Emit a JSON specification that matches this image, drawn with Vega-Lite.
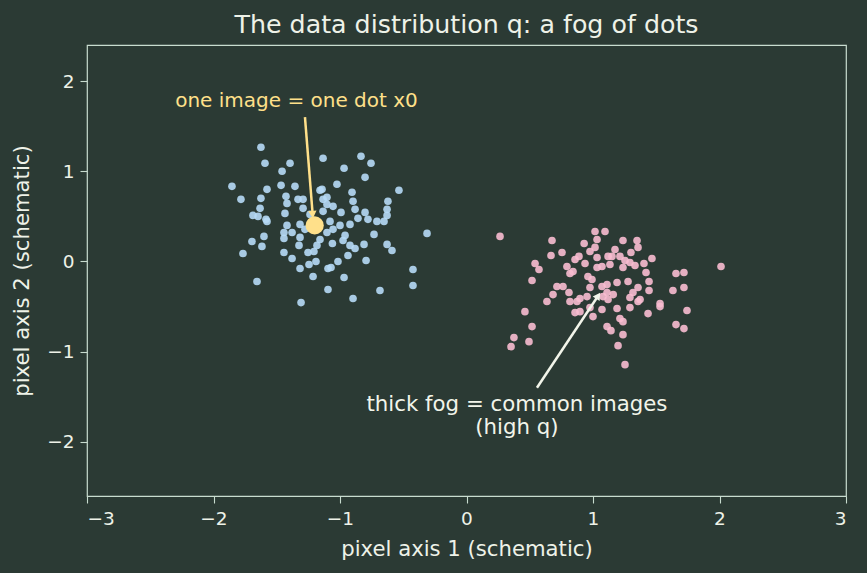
{
  "$schema": "https://vega.github.io/schema/vega-lite/v6.json",
  "autosize": "none",
  "width": 759,
  "height": 451,
  "padding": {"left": 87, "top": 45, "right": 21, "bottom": 77},
  "background": "#2b3a34",
  "config": {
    "font": "DejaVu Sans",
    "view": {"stroke": "#c8dccf", "strokeWidth": 1.2, "fill": "#2b3a34"},
    "axis": {
      "domain": false, "grid": false, "tickColor": "#c8dccf", "tickSize": 7, "tickWidth": 1.1,
      "labelColor": "#eef2e8", "labelFontSize": 18.5, "titleColor": "#eef2e8", "titleFontSize": 21.2,
      "titleFontWeight": "normal", "labelPadding": 6, "format": "d"
    },
    "title": {"color": "#eef2e8", "fontSize": 25.3, "fontWeight": "normal", "offset": 7}
  },
  "title": "The data distribution q: a fog of dots",
  "datasets": {
    "dots": [
      {"g":"blue","x":-1.625,"y":1.267},{"g":"blue","x":-1.593,"y":1.089},{"g":"blue","x":-1.395,"y":1.089},{"g":"blue","x":-1.458,"y":1.0},
      {"g":"blue","x":-1.134,"y":1.144},{"g":"blue","x":-1.854,"y":0.833},{"g":"blue","x":-1.577,"y":0.8},{"g":"blue","x":-1.466,"y":0.844},
      {"g":"blue","x":-1.356,"y":0.833},{"g":"blue","x":-1.783,"y":0.689},{"g":"blue","x":-1.625,"y":0.7},{"g":"blue","x":-1.427,"y":0.722},
      {"g":"blue","x":-1.419,"y":0.644},{"g":"blue","x":-1.332,"y":0.689},{"g":"blue","x":-1.292,"y":0.689},{"g":"blue","x":-1.292,"y":0.589},
      {"g":"blue","x":-1.158,"y":0.789},{"g":"blue","x":-1.134,"y":0.689},{"g":"blue","x":-1.632,"y":0.589},{"g":"blue","x":-1.688,"y":0.511},
      {"g":"blue","x":-1.648,"y":0.5},{"g":"blue","x":-1.585,"y":0.467},{"g":"blue","x":-1.435,"y":0.533},{"g":"blue","x":-1.419,"y":0.4},
      {"g":"blue","x":-1.316,"y":0.411},{"g":"blue","x":-1.134,"y":0.556},{"g":"blue","x":-1.103,"y":0.633},{"g":"blue","x":-0.834,"y":1.167},
      {"g":"blue","x":-0.755,"y":1.089},{"g":"blue","x":-0.968,"y":1.033},{"g":"blue","x":-0.802,"y":0.933},{"g":"blue","x":-1.024,"y":0.856},
      {"g":"blue","x":-0.534,"y":0.789},{"g":"blue","x":-0.905,"y":0.767},{"g":"blue","x":-0.897,"y":0.667},{"g":"blue","x":-0.621,"y":0.667},
      {"g":"blue","x":-1.103,"y":0.711},{"g":"blue","x":-1.055,"y":0.611},{"g":"blue","x":-0.881,"y":0.578},{"g":"blue","x":-0.628,"y":0.578},
      {"g":"blue","x":-0.802,"y":0.544},{"g":"blue","x":-0.992,"y":0.544},{"g":"blue","x":-0.628,"y":0.511},{"g":"blue","x":-0.779,"y":0.467},
      {"g":"blue","x":-0.858,"y":0.478},{"g":"blue","x":-0.708,"y":0.444},{"g":"blue","x":-0.652,"y":0.444},{"g":"blue","x":-0.921,"y":0.411},
      {"g":"blue","x":-1.142,"y":0.8},{"g":"blue","x":-1.379,"y":0.322},{"g":"blue","x":-1.443,"y":0.322},{"g":"blue","x":-1.601,"y":0.278},
      {"g":"blue","x":-1.696,"y":0.222},{"g":"blue","x":-1.617,"y":0.167},{"g":"blue","x":-1.443,"y":0.256},{"g":"blue","x":-1.316,"y":0.267},
      {"g":"blue","x":-1.324,"y":0.178},{"g":"blue","x":-1.767,"y":0.089},{"g":"blue","x":-1.443,"y":0.1},{"g":"blue","x":-1.379,"y":0.033},
      {"g":"blue","x":-1.253,"y":0.1},{"g":"blue","x":-1.182,"y":0.178},{"g":"blue","x":-1.206,"y":0.111},{"g":"blue","x":-1.19,"y":0.0},
      {"g":"blue","x":-1.245,"y":-0.033},{"g":"blue","x":-1.316,"y":-0.078},{"g":"blue","x":-1.213,"y":-0.167},{"g":"blue","x":-1.656,"y":-0.222},
      {"g":"blue","x":-1.095,"y":-0.078},{"g":"blue","x":-1.095,"y":-0.311},{"g":"blue","x":-1.308,"y":-0.456},{"g":"blue","x":-1.577,"y":0.444},
      {"g":"blue","x":-0.731,"y":0.3},{"g":"blue","x":-0.312,"y":0.311},{"g":"blue","x":-0.96,"y":0.289},{"g":"blue","x":-0.976,"y":0.233},
      {"g":"blue","x":-0.921,"y":0.178},{"g":"blue","x":-0.81,"y":0.189},{"g":"blue","x":-0.628,"y":0.189},{"g":"blue","x":-0.589,"y":0.122},
      {"g":"blue","x":-0.881,"y":0.144},{"g":"blue","x":-0.937,"y":0.067},{"g":"blue","x":-1.016,"y":0.0},{"g":"blue","x":-0.794,"y":0.011},
      {"g":"blue","x":-1.071,"y":-0.067},{"g":"blue","x":-0.423,"y":-0.089},{"g":"blue","x":-0.968,"y":-0.178},{"g":"blue","x":-0.423,"y":-0.267},
      {"g":"blue","x":-0.684,"y":-0.322},{"g":"blue","x":-0.897,"y":-0.411},{"g":"blue","x":-1.055,"y":0.356},{"g":"blue","x":-1.103,"y":0.322},
      {"g":"blue","x":-1.237,"y":0.522},{"g":"blue","x":-1.079,"y":0.444},{"g":"blue","x":-1.158,"y":0.244},{"g":"blue","x":-1.277,"y":0.356},
      {"g":"blue","x":-1.0,"y":0.4},{"g":"blue","x":-1.06,"y":0.2},
      {"g":"pink","x":0.265,"y":0.278},{"g":"pink","x":0.676,"y":0.233},{"g":"pink","x":0.668,"y":0.067},{"g":"pink","x":0.755,"y":0.1},
      {"g":"pink","x":0.542,"y":-0.022},{"g":"pink","x":0.573,"y":-0.089},{"g":"pink","x":0.518,"y":-0.211},{"g":"pink","x":1.016,"y":0.333},
      {"g":"pink","x":1.095,"y":0.333},{"g":"pink","x":1.032,"y":0.244},{"g":"pink","x":1.016,"y":0.156},{"g":"pink","x":0.976,"y":0.111},
      {"g":"pink","x":0.889,"y":0.056},{"g":"pink","x":0.858,"y":0.022},{"g":"pink","x":0.937,"y":-0.022},{"g":"pink","x":1.032,"y":0.044},
      {"g":"pink","x":0.794,"y":-0.056},{"g":"pink","x":0.842,"y":-0.111},{"g":"pink","x":0.818,"y":-0.133},{"g":"pink","x":1.032,"y":-0.067},
      {"g":"pink","x":0.96,"y":-0.167},{"g":"pink","x":0.992,"y":-0.2},{"g":"pink","x":1.119,"y":0.056},{"g":"pink","x":0.715,"y":-0.278},
      {"g":"pink","x":0.763,"y":-0.278},{"g":"pink","x":0.81,"y":-0.344},{"g":"pink","x":0.684,"y":-0.367},{"g":"pink","x":0.636,"y":-0.444},
      {"g":"pink","x":0.976,"y":-0.289},{"g":"pink","x":1.071,"y":-0.278},{"g":"pink","x":1.111,"y":-0.344},{"g":"pink","x":0.818,"y":-0.444},
      {"g":"pink","x":0.897,"y":-0.411},{"g":"pink","x":0.953,"y":-0.389},{"g":"pink","x":1.237,"y":0.233},{"g":"pink","x":1.348,"y":0.233},
      {"g":"pink","x":1.356,"y":0.156},{"g":"pink","x":1.15,"y":0.056},{"g":"pink","x":1.213,"y":0.056},{"g":"pink","x":1.253,"y":0.011},
      {"g":"pink","x":1.292,"y":-0.011},{"g":"pink","x":1.332,"y":-0.044},{"g":"pink","x":1.403,"y":-0.022},{"g":"pink","x":1.466,"y":0.033},
      {"g":"pink","x":1.134,"y":-0.033},{"g":"pink","x":1.237,"y":-0.067},{"g":"pink","x":1.071,"y":-0.056},{"g":"pink","x":1.419,"y":-0.122},
      {"g":"pink","x":1.443,"y":-0.222},{"g":"pink","x":1.277,"y":-0.222},{"g":"pink","x":1.19,"y":-0.233},{"g":"pink","x":1.656,"y":-0.133},
      {"g":"pink","x":1.719,"y":-0.122},{"g":"pink","x":2.012,"y":-0.056},{"g":"pink","x":1.632,"y":-0.322},{"g":"pink","x":1.719,"y":-0.289},
      {"g":"pink","x":1.443,"y":-0.322},{"g":"pink","x":1.111,"y":-0.256},{"g":"pink","x":1.356,"y":-0.289},{"g":"pink","x":1.316,"y":-0.344},
      {"g":"pink","x":1.16,"y":-0.367},{"g":"pink","x":1.079,"y":-0.389},{"g":"pink","x":1.292,"y":-0.4},{"g":"pink","x":1.372,"y":-0.422},
      {"g":"pink","x":1.53,"y":-0.467},{"g":"pink","x":0.462,"y":-0.556},{"g":"pink","x":0.518,"y":-0.722},{"g":"pink","x":0.375,"y":-0.844},
      {"g":"pink","x":0.494,"y":-0.889},{"g":"pink","x":0.352,"y":-0.944},{"g":"pink","x":0.874,"y":-0.444},{"g":"pink","x":0.858,"y":-0.567},
      {"g":"pink","x":0.897,"y":-0.556},{"g":"pink","x":0.976,"y":-0.511},{"g":"pink","x":1.0,"y":-0.611},{"g":"pink","x":1.071,"y":-0.533},
      {"g":"pink","x":1.111,"y":-0.722},{"g":"pink","x":1.119,"y":-0.422},{"g":"pink","x":1.19,"y":-0.522},{"g":"pink","x":1.292,"y":-0.511},
      {"g":"pink","x":1.356,"y":-0.444},{"g":"pink","x":1.213,"y":-0.633},{"g":"pink","x":1.237,"y":-0.667},{"g":"pink","x":1.435,"y":-0.578},
      {"g":"pink","x":1.53,"y":-0.5},{"g":"pink","x":1.743,"y":-0.544},{"g":"pink","x":1.142,"y":-0.767},{"g":"pink","x":1.237,"y":-0.811},
      {"g":"pink","x":1.656,"y":-0.7},{"g":"pink","x":1.719,"y":-0.744},{"g":"pink","x":1.198,"y":-0.933},{"g":"pink","x":1.253,"y":-1.144},
      {"g":"pink","x":1.174,"y":0.133},{"g":"pink","x":1.3,"y":0.1},{"g":"pink","x":0.93,"y":0.2}
    ]
  },
  "layer": [
    {
      "data": {"name": "dots"},
      "mark": {"type": "point", "filled": true, "size": 58, "opacity": 0.9, "shape": "circle"},
      "encoding": {
        "x": {"field": "x", "type": "quantitative", "scale": {"domain": [-3, 3], "nice": false}, "axis": {"values": [-3,-2,-1,0,1,2,3], "title": "pixel axis 1 (schematic)", "titlePadding": 11}},
        "y": {"field": "y", "type": "quantitative", "scale": {"domain": [-2.6, 2.4], "nice": false}, "axis": {"values": [-2,-1,0,1,2], "title": "pixel axis 2 (schematic)", "titlePadding": 14}},
        "color": {"field": "g", "type": "nominal", "scale": {"domain": ["blue","pink"], "range": ["#b6daf6","#f8bdd0"]}, "legend": null}
      }
    },
    {
      "data": {"values": [{"x": -1.2, "y": 0.4}]},
      "mark": {"type": "point", "filled": true, "size": 330, "opacity": 1, "color": "#ffe08a", "shape": "circle"},
      "encoding": {"x": {"field": "x", "type": "quantitative"}, "y": {"field": "y", "type": "quantitative"}}
    },
    {
      "data": {"values": [{"x": -1.277, "y": 1.6, "x2": -1.216, "y2": 0.52}]},
      "mark": {"type": "rule", "color": "#ffe08a", "strokeWidth": 2.5},
      "encoding": {"x": {"field": "x", "type": "quantitative"}, "y": {"field": "y", "type": "quantitative"}, "x2": {"field": "x2"}, "y2": {"field": "y2"}}
    },
    {
      "data": {"values": [{"x": -1.216, "y": 0.52}]},
      "mark": {"type": "point", "shape": "triangle-up", "filled": true, "opacity": 1, "size": 70, "angle": 175, "color": "#ffe08a"},
      "encoding": {"x": {"field": "x", "type": "quantitative"}, "y": {"field": "y", "type": "quantitative"}}
    },
    {
      "data": {"values": [{"x": 0.557, "y": -1.4, "x2": 1.041, "y2": -0.38}]},
      "mark": {"type": "rule", "color": "#f2f5ea", "strokeWidth": 2.5},
      "encoding": {"x": {"field": "x", "type": "quantitative"}, "y": {"field": "y", "type": "quantitative"}, "x2": {"field": "x2"}, "y2": {"field": "y2"}}
    },
    {
      "data": {"values": [{"x": 1.041, "y": -0.38}]},
      "mark": {"type": "point", "shape": "triangle-up", "filled": true, "opacity": 1, "size": 70, "angle": 34, "color": "#f2f5ea"},
      "encoding": {"x": {"field": "x", "type": "quantitative"}, "y": {"field": "y", "type": "quantitative"}}
    },
    {
      "data": {"values": [{"x": -1.344, "y": 1.778, "t": "one image = one dot x0"}]},
      "mark": {"type": "text", "fontSize": 20, "color": "#ffe08a", "align": "center", "baseline": "middle"},
      "encoding": {"x": {"field": "x", "type": "quantitative"}, "y": {"field": "y", "type": "quantitative"}, "text": {"field": "t"}}
    },
    {
      "data": {"values": [{"x": 0.399, "y": -1.589, "t": "thick fog = common images"}, {"x": 0.399, "y": -1.844, "t": "(high q)"}]},
      "mark": {"type": "text", "fontSize": 21.3, "color": "#f2f5ea", "align": "center", "baseline": "middle"},
      "encoding": {"x": {"field": "x", "type": "quantitative"}, "y": {"field": "y", "type": "quantitative"}, "text": {"field": "t"}}
    }
  ]
}
